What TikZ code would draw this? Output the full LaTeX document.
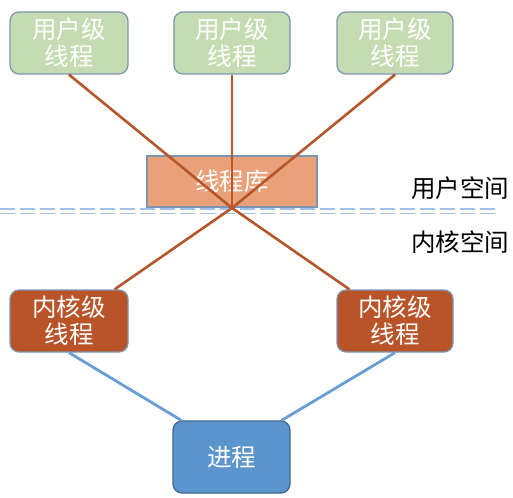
\documentclass[tikz,border=0pt]{standalone}
\usepackage{fontspec}
\setmainfont{Noto Sans CJK SC}
\usepackage{tikz}
\usetikzlibrary{positioning}
\definecolor{usrcol}{RGB}{197,219,178}
\definecolor{libcol}{RGB}{234,161,122}
\definecolor{kercol}{RGB}{184,84,40}
\definecolor{proccol}{RGB}{92,148,205}
\definecolor{edgecol}{RGB}{124,150,178}
\definecolor{linecol}{RGB}{182,86,42}
\definecolor{bluecol}{RGB}{104,158,212}
\definecolor{dashcol}{RGB}{157,196,232}
\tikzset{
  box/.style={draw=edgecol, line width=1.3pt, rounded corners=9pt,
    minimum width=118pt, minimum height=62pt, inner sep=0pt,
    align=center, text=white, font=\fontsize{24.5}{27}\selectfont},
  usrbox/.style={box, fill=usrcol},
  kerbox/.style={box, fill=kercol},
  conn/.style={draw=linecol, line width=2.6pt},
  bconn/.style={draw=bluecol, line width=2.8pt},
  sep/.style={draw=dashcol, line width=1.6pt, dash pattern=on 15pt off 5pt}
}

\begin{document}
\begin{tikzpicture}[x=1pt, y=-1pt]
\useasboundingbox (0,0) rectangle (513,497);

% ================= User space =================
\node[usrbox] (u1) at (69,43)  {用户级\\线程};
\node[usrbox, minimum width=116pt] (u2) at (232,43) {用户级\\线程};
\node[usrbox, minimum width=116pt] (u3) at (395,43) {用户级\\线程};

% Thread library
\node[draw=edgecol, line width=1.3pt, fill=libcol, minimum width=170pt,
  minimum height=51pt, inner sep=0pt, text=white,
  font=\fontsize{24.5}{27}\selectfont] (lib) at (232,181.5) {线程库};

% ================= Separator =================
\draw[sep] (0,209) -- (495,209);
\draw[sep] (0,213.5) -- (495,213.5);

\node[font=\fontsize{24.5}{27}\selectfont] (usp) at (460,188) {用户空间};
\node[font=\fontsize{24.5}{27}\selectfont] (ksp) at (460,242) {内核空间};

% ================= Kernel space =================
\node[kerbox] (k1) at (69,321)  {内核级\\线程};
\node[kerbox, minimum width=116pt] (k2) at (395,321) {内核级\\线程};

\node[box, fill=proccol, draw=proccol!70!black, minimum width=117pt,
  minimum height=72pt] (proc) at (231.5,457) {进程};

% Mapping lines
\coordinate (jn) at (232,208);
\foreach \u in {u1,u2,u3}{
  \draw[conn] (\u.south) -- (jn);
}
\draw[conn] (jn) -- (k1);
\draw[conn] (jn) -- (k2);

\draw[bconn] (k1.south) -- ([xshift=9pt]proc.north west);
\draw[bconn] (k2.south) -- ([xshift=-9pt]proc.north east);

\end{tikzpicture}
\end{document}
